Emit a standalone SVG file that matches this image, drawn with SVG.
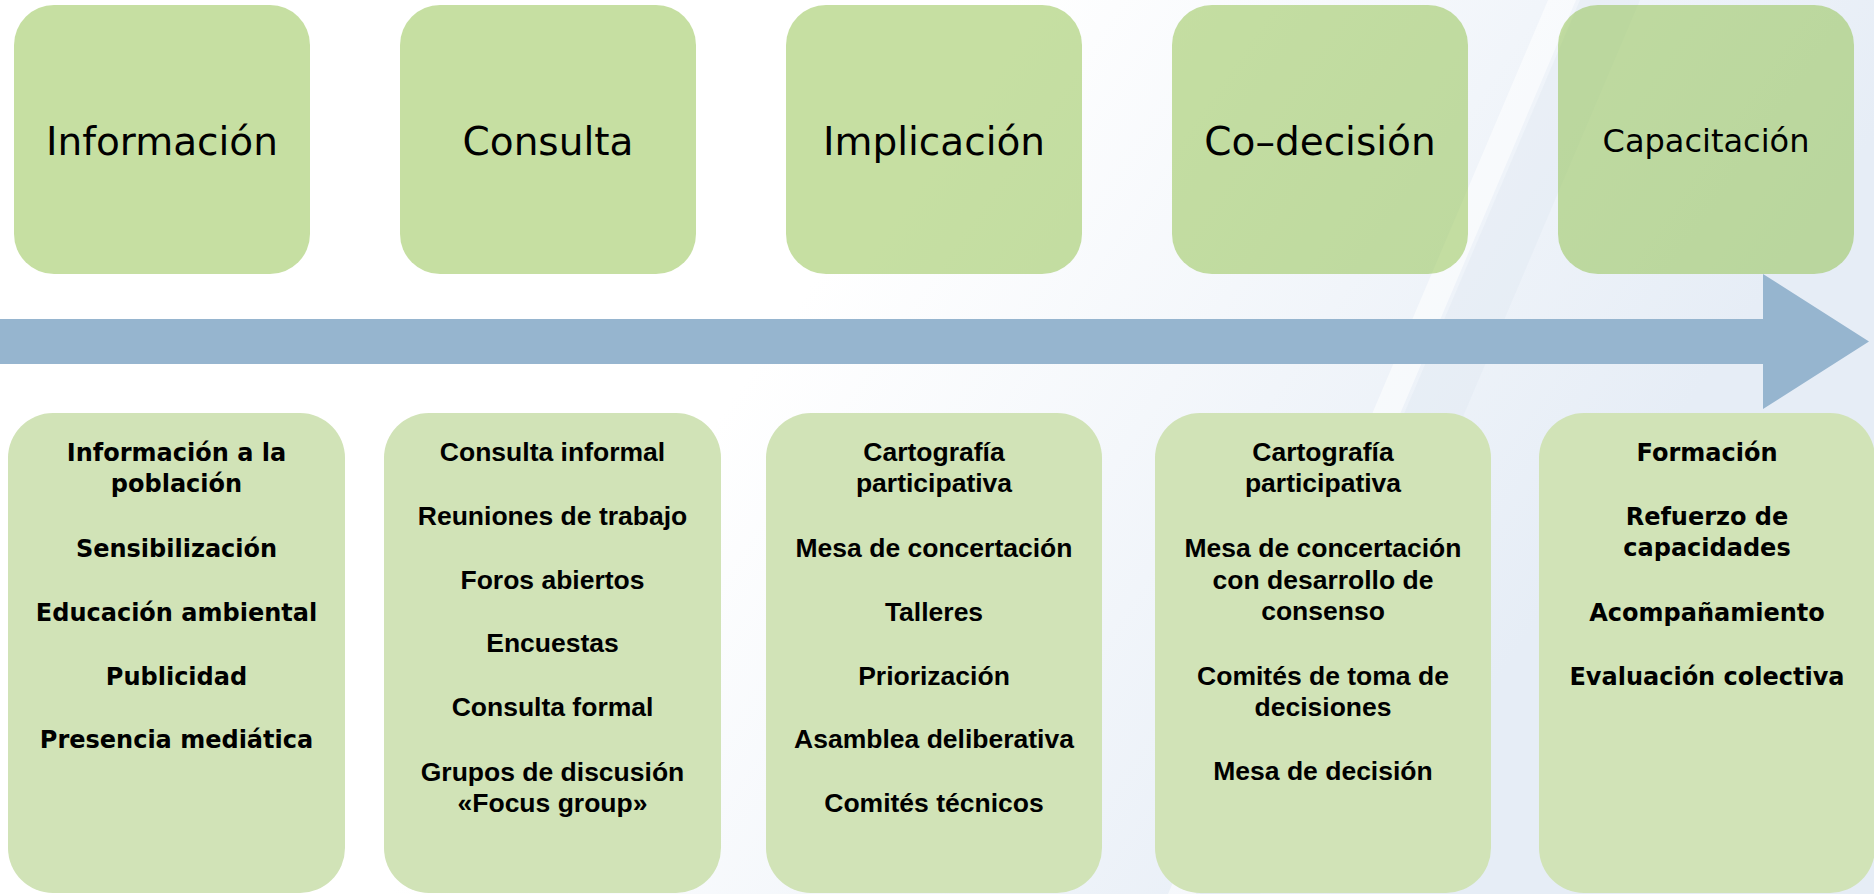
<svg xmlns="http://www.w3.org/2000/svg" width="1874" height="894" viewBox="0 0 1874 894">
  <defs>
    <linearGradient id="bgGrad" gradientUnits="userSpaceOnUse" x1="800" y1="300" x2="1450" y2="750">
      <stop offset="0" stop-color="#ffffff"/>
      <stop offset="1" stop-color="#e6edf6"/>
    </linearGradient>
    <style>
      .top { fill: #8dbf45; fill-opacity: 0.5; }
      .bot { fill: #d1e3b7; }
      .arrow { fill: #96b5cf; }
      .title { font-family: "DejaVu Sans", "Liberation Sans", sans-serif; font-size: 39px; fill: #000; text-anchor: middle; }
      .title.small { font-size: 32px; }
      .lu { font-family: "DejaVu Sans", "Liberation Sans", sans-serif; font-weight: bold; font-size: 24px; fill: #000; text-anchor: middle; }
      .ar { font-family: "Liberation Sans", Arial, sans-serif; font-weight: bold; font-size: 26.5px; fill: #000; text-anchor: middle; }
    </style>
  </defs>

  <!-- background -->
  <rect x="0" y="0" width="1874" height="894" fill="url(#bgGrad)"/>
  <polygon points="1580,0 1640,0 1260,894 1200,894" fill="#dae4f0" opacity="0.3"/>
  <polygon points="1548,0 1576,0 1196,894 1168,894" fill="#ffffff" opacity="0.55"/>

  <!-- connectors -->
  <g id="connectors">
    <polygon class="arrow" points="0,319 1763,319 1763,274 1869,341.5 1763,409 1763,364 0,364"/>
  </g>

  <!-- top nodes -->
  <g id="stage-informacion">
    <rect class="top" x="14" y="5" width="296" height="269" rx="40" ry="40"/>
    <text class="title" x="162" y="155">Información</text>
  </g>
  <g id="stage-consulta">
    <rect class="top" x="400" y="5" width="296" height="269" rx="40" ry="40"/>
    <text class="title" x="548" y="155">Consulta</text>
  </g>
  <g id="stage-implicacion">
    <rect class="top" x="786" y="5" width="296" height="269" rx="40" ry="40"/>
    <text class="title" x="934" y="155">Implicación</text>
  </g>
  <g id="stage-codecision">
    <rect class="top" x="1172" y="5" width="296" height="269" rx="40" ry="40"/>
    <text class="title" x="1320" y="155">Co–decisión</text>
  </g>
  <g id="stage-capacitacion">
    <rect class="top" x="1558" y="5" width="296" height="269" rx="40" ry="40"/>
    <text class="title small" x="1706" y="152">Capacitación</text>
  </g>

  <!-- bottom nodes -->
  <g id="tools-informacion">
    <rect class="bot" x="8" y="413" width="337" height="480" rx="45" ry="45"/>
    <text class="lu" x="176.5" y="461">Información a la</text>
    <text class="lu" x="176.5" y="492">población</text>
    <text class="lu" x="176.5" y="557">Sensibilización</text>
    <text class="lu" x="176.5" y="621">Educación ambiental</text>
    <text class="lu" x="176.5" y="685">Publicidad</text>
    <text class="lu" x="176.5" y="748">Presencia mediática</text>
  </g>
  <g id="tools-consulta">
    <rect class="bot" x="384" y="413" width="337" height="480" rx="45" ry="45"/>
    <text class="ar" x="552.5" y="461">Consulta informal</text>
    <text class="ar" x="552.5" y="525">Reuniones de trabajo</text>
    <text class="ar" x="552.5" y="589">Foros abiertos</text>
    <text class="ar" x="552.5" y="652">Encuestas</text>
    <text class="ar" x="552.5" y="716">Consulta formal</text>
    <text class="ar" x="552.5" y="781">Grupos de discusión</text>
    <text class="ar" x="552.5" y="812">«Focus group»</text>
  </g>
  <g id="tools-implicacion">
    <rect class="bot" x="766" y="413" width="336" height="480" rx="45" ry="45"/>
    <text class="ar" x="934" y="461">Cartografía</text>
    <text class="ar" x="934" y="492">participativa</text>
    <text class="ar" x="934" y="557">Mesa de concertación</text>
    <text class="ar" x="934" y="621">Talleres</text>
    <text class="ar" x="934" y="685">Priorización</text>
    <text class="ar" x="934" y="748">Asamblea deliberativa</text>
    <text class="ar" x="934" y="812">Comités técnicos</text>
  </g>
  <g id="tools-codecision">
    <rect class="bot" x="1155" y="413" width="336" height="480" rx="45" ry="45"/>
    <text class="ar" x="1323" y="461">Cartografía</text>
    <text class="ar" x="1323" y="492">participativa</text>
    <text class="ar" x="1323" y="557">Mesa de concertación</text>
    <text class="ar" x="1323" y="589">con desarrollo de</text>
    <text class="ar" x="1323" y="620">consenso</text>
    <text class="ar" x="1323" y="685">Comités de toma de</text>
    <text class="ar" x="1323" y="716">decisiones</text>
    <text class="ar" x="1323" y="780">Mesa de decisión</text>
  </g>
  <g id="tools-capacitacion">
    <rect class="bot" x="1539" y="413" width="336" height="480" rx="45" ry="45"/>
    <text class="lu" x="1707" y="461">Formación</text>
    <text class="lu" x="1707" y="525">Refuerzo de</text>
    <text class="lu" x="1707" y="556">capacidades</text>
    <text class="lu" x="1707" y="621">Acompañamiento</text>
    <text class="lu" x="1707" y="685">Evaluación colectiva</text>
  </g>
</svg>
